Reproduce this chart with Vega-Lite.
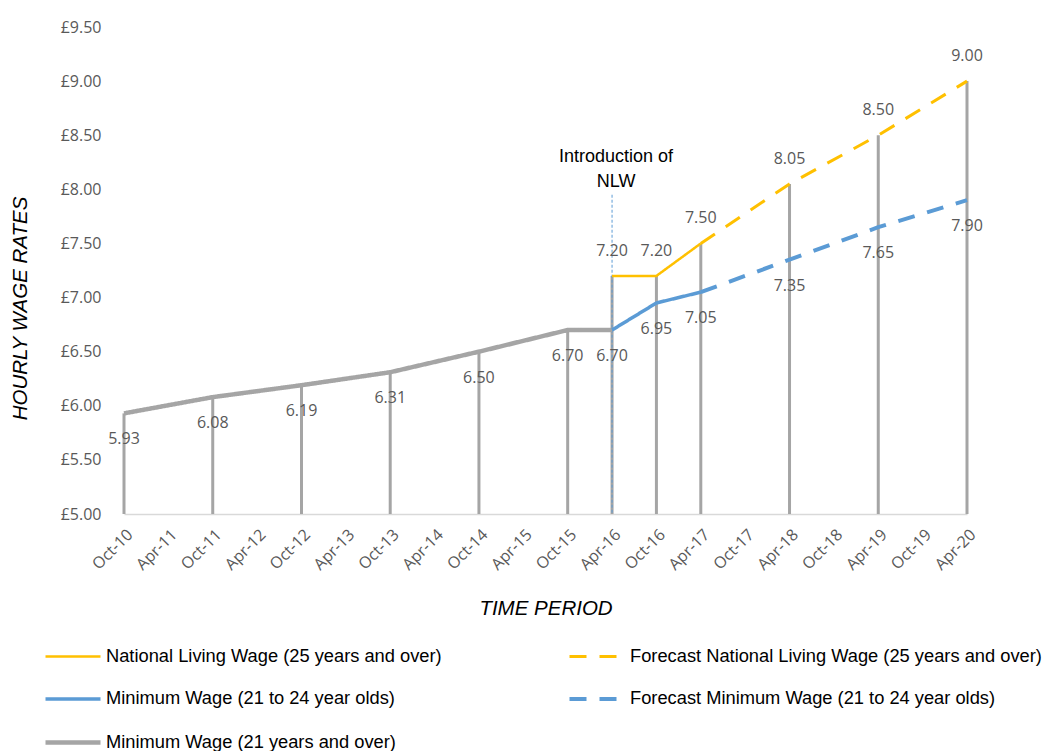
{
  "$schema": "https://vega.github.io/schema/vega-lite/v6.json",
  "width": 843,
  "height": 487,
  "autosize": "none",
  "padding": {"left": 124, "top": 27, "right": 79, "bottom": 237},
  "background": "#ffffff",
  "config": {
    "view": {"stroke": null},
    "axis": {"grid": false, "ticks": false, "labelFont": "Open Sans", "labelFontSize": 16, "labelColor": "#595959", "titleFont": "Liberation Sans", "titleFontSize": 20.5, "titleFontStyle": "italic", "titleFontWeight": "normal", "titleColor": "#000000"}
  },
  "datasets": {
    "wages": [
      {"period": "Oct-10", "series": "Minimum Wage (21 years and over)", "value": 5.93},
      {"period": "Oct-11", "series": "Minimum Wage (21 years and over)", "value": 6.08},
      {"period": "Oct-12", "series": "Minimum Wage (21 years and over)", "value": 6.19},
      {"period": "Oct-13", "series": "Minimum Wage (21 years and over)", "value": 6.31},
      {"period": "Oct-14", "series": "Minimum Wage (21 years and over)", "value": 6.50},
      {"period": "Oct-15", "series": "Minimum Wage (21 years and over)", "value": 6.70},
      {"period": "Apr-16", "series": "Minimum Wage (21 years and over)", "value": 6.70},
      {"period": "Apr-16", "series": "Minimum Wage (21 to 24 year olds)", "value": 6.70},
      {"period": "Oct-16", "series": "Minimum Wage (21 to 24 year olds)", "value": 6.95},
      {"period": "Apr-17", "series": "Minimum Wage (21 to 24 year olds)", "value": 7.05},
      {"period": "Apr-17", "series": "Forecast Minimum Wage (21 to 24 year olds)", "value": 7.05},
      {"period": "Apr-18", "series": "Forecast Minimum Wage (21 to 24 year olds)", "value": 7.35},
      {"period": "Apr-19", "series": "Forecast Minimum Wage (21 to 24 year olds)", "value": 7.65},
      {"period": "Apr-20", "series": "Forecast Minimum Wage (21 to 24 year olds)", "value": 7.90},
      {"period": "Apr-16", "series": "National Living Wage (25 years and over)", "value": 7.20},
      {"period": "Oct-16", "series": "National Living Wage (25 years and over)", "value": 7.20},
      {"period": "Apr-17", "series": "National Living Wage (25 years and over)", "value": 7.50},
      {"period": "Apr-17", "series": "Forecast National Living Wage (25 years and over)", "value": 7.50},
      {"period": "Apr-18", "series": "Forecast National Living Wage (25 years and over)", "value": 8.05},
      {"period": "Apr-19", "series": "Forecast National Living Wage (25 years and over)", "value": 8.50},
      {"period": "Apr-20", "series": "Forecast National Living Wage (25 years and over)", "value": 9.00}
    ],
    "note": [
      {"period": "Apr-16", "bottom": 5, "top": 7.95, "textpos": 8.3, "text": "Introduction of\nNLW"}
    ]
  },
  "data": {"name": "wages"},
  "encoding": {
    "x": {
      "field": "period", "type": "ordinal",
      "scale": {"type": "point", "padding": 0, "domain": ["Oct-10","Apr-11","Oct-11","Apr-12","Oct-12","Apr-13","Oct-13","Apr-14","Oct-14","Apr-15","Oct-15","Apr-16","Oct-16","Apr-17","Oct-17","Apr-18","Oct-18","Apr-19","Oct-19","Apr-20"]},
      "axis": {"title": "TIME PERIOD", "labelAngle": -45, "labelAlign": "right", "labelBaseline": "top", "labelPadding": 12, "domainColor": "#D9D9D9", "domainWidth": 1.5, "titlePadding": 26}
    }
  },
  "layer": [
    {
      "mark": {"type": "rule", "color": "#A5A5A5", "strokeWidth": 3},
      "encoding": {
        "y": {"aggregate": "max", "field": "value", "type": "quantitative",
              "scale": {"domain": [5, 9.5], "nice": false, "zero": false},
              "axis": {"title": "HOURLY WAGE RATES", "values": [5,5.5,6,6.5,7,7.5,8,8.5,9,9.5], "labelExpr": "'£' + format(datum.value, '.2f')", "domain": false, "labelPadding": 23, "titlePadding": 30, "titleY": 281}},
        "y2": {"datum": 5}
      }
    },
    {
      "data": {"name": "note"},
      "mark": {"type": "rule", "color": "#5B9BD5", "strokeWidth": 1, "strokeDash": [3, 2]},
      "encoding": {
        "y": {"field": "top", "type": "quantitative"},
        "y2": {"field": "bottom"}
      }
    },
    {
      "mark": {"type": "line", "strokeCap": "butt", "strokeJoin": "round"},
      "encoding": {
        "y": {"field": "value", "type": "quantitative"},
        "detail": {"field": "series"},
        "color": {
          "field": "series", "type": "nominal",
          "scale": {"domain": ["National Living Wage (25 years and over)", "Forecast National Living Wage (25 years and over)", "Minimum Wage (21 to 24 year olds)", "Forecast Minimum Wage (21 to 24 year olds)", "Minimum Wage (21 years and over)"],
                    "range": ["#FFC000", "#FFC000", "#5B9BD5", "#5B9BD5", "#A5A5A5"]},
          "legend": {"title": null, "orient": "none", "direction": "horizontal", "legendX": -81, "legendY": 618, "columns": 2, "columnPadding": 119, "rowPadding": 22, "symbolType": "M-1,0H4.5", "symbolSize": 400, "labelOffset": 38, "labelFont": "Liberation Sans", "labelFontSize": 18.3, "labelColor": "#000000", "labelLimit": 600}
        },
        "strokeDash": {
          "field": "series", "type": "nominal",
          "scale": {"domain": ["National Living Wage (25 years and over)", "Forecast National Living Wage (25 years and over)", "Minimum Wage (21 to 24 year olds)", "Forecast Minimum Wage (21 to 24 year olds)", "Minimum Wage (21 years and over)"],
                    "range": [[1, 0], [17, 13], [1, 0], [17, 13], [1, 0]]},
          "legend": {"title": null, "orient": "none", "direction": "horizontal", "legendX": -81, "legendY": 618, "columns": 2, "columnPadding": 119, "rowPadding": 22, "symbolType": "M-1,0H4.5", "symbolSize": 400, "labelOffset": 38, "labelFont": "Liberation Sans", "labelFontSize": 18.3, "labelColor": "#000000", "labelLimit": 600}
        },
        "strokeWidth": {
          "field": "series", "type": "nominal",
          "scale": {"domain": ["National Living Wage (25 years and over)", "Forecast National Living Wage (25 years and over)", "Minimum Wage (21 to 24 year olds)", "Forecast Minimum Wage (21 to 24 year olds)", "Minimum Wage (21 years and over)"],
                    "range": [2.5, 4.5, 4, 4.5, 4]},
          "legend": {"title": null, "orient": "none", "direction": "horizontal", "legendX": -81, "legendY": 618, "columns": 2, "columnPadding": 119, "rowPadding": 22, "symbolType": "M-1,0H4.5", "symbolSize": 400, "labelOffset": 38, "labelFont": "Liberation Sans", "labelFontSize": 18.3, "labelColor": "#000000", "labelLimit": 600}
        }
      }
    },
    {
      "transform": [
        {"filter": "!test(/Forecast/, datum.series) || datum.period != 'Apr-17'"},
        {"filter": "test(/National Living/, datum.series)"}
      ],
      "mark": {"type": "text", "font": "Open Sans", "fontSize": 16, "color": "#595959", "baseline": "middle", "dy": -25},
      "encoding": {
        "y": {"field": "value", "type": "quantitative"},
        "text": {"field": "value", "type": "quantitative", "format": ".2f"}
      }
    },
    {
      "transform": [
        {"filter": "!test(/Forecast/, datum.series) || datum.period != 'Apr-17'"},
        {"filter": "datum.series != 'Minimum Wage (21 to 24 year olds)' || datum.period != 'Apr-16'"},
        {"filter": "!test(/National Living/, datum.series)"}
      ],
      "mark": {"type": "text", "font": "Open Sans", "fontSize": 16, "color": "#595959", "baseline": "middle", "dy": 26},
      "encoding": {
        "y": {"field": "value", "type": "quantitative"},
        "text": {"field": "value", "type": "quantitative", "format": ".2f"}
      }
    },
    {
      "data": {"name": "note"},
      "mark": {"type": "text", "font": "Liberation Sans", "fontSize": 18, "color": "#000000", "baseline": "middle", "lineBreak": "\n", "lineHeight": 25, "dx": 4},
      "encoding": {
        "y": {"field": "textpos", "type": "quantitative"},
        "text": {"field": "text"}
      }
    }
  ]
}
